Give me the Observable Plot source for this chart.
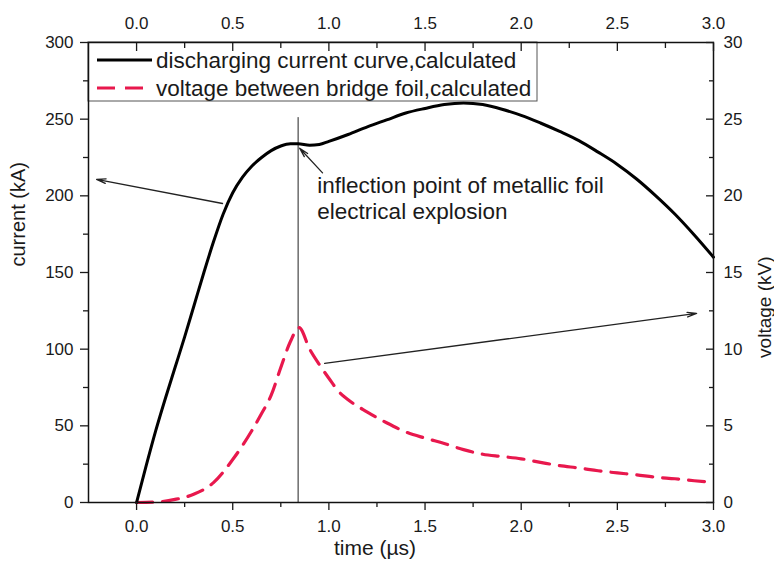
<!DOCTYPE html>
<html>
<head>
<meta charset="utf-8">
<script src="https://cdn.jsdelivr.net/npm/d3@7"></script>
<script src="https://cdn.jsdelivr.net/npm/@observablehq/plot@0.6"></script>
<style>
  body { margin: 0; background: #fff; }
  svg { display: block; }
</style>
</head>
<body>
<div id="chart"></div>
<script>
// Discharging current of the bridge foil (kA) against time (µs)
const currentTime = [0, 0.05, 0.1, 0.15, 0.2, 0.25, 0.3, 0.35, 0.4, 0.45, 0.5, 0.55, 0.6, 0.65, 0.7, 0.75, 0.8, 0.84, 0.9, 0.95, 1.0, 1.1, 1.2, 1.3, 1.4, 1.5, 1.6, 1.7, 1.8, 1.9, 2.0, 2.1, 2.2, 2.3, 2.4, 2.5, 2.6, 2.7, 2.8, 2.9, 3.0];
const currentKA = [0, 24, 47, 68, 88, 108, 129, 150, 170, 188, 202, 212, 219.5, 225, 229.5, 232.5, 234, 234, 233, 233.5, 235.5, 240, 245, 249.5, 254, 257, 259.5, 260.5, 259.5, 256.5, 252.5, 247.5, 242, 236, 228.5, 220.5, 211, 200, 188, 174.5, 160];

// Voltage across the bridge foil (kV) against time (µs)
const voltageTime = [0, 0.1, 0.2, 0.3, 0.4, 0.5, 0.55, 0.6, 0.65, 0.7, 0.75, 0.8, 0.845, 0.9, 0.95, 1.0, 1.05, 1.1, 1.2, 1.3, 1.4, 1.5, 1.6, 1.7, 1.8, 1.9, 2.0, 2.1, 2.2, 2.3, 2.4, 2.5, 2.6, 2.7, 2.8, 2.9, 3.0];
const voltageKV = [0, 0.03, 0.2, 0.55, 1.3, 2.8, 3.7, 4.7, 5.8, 7.0, 8.8, 10.5, 11.4, 10.0, 9.0, 8.1, 7.25, 6.7, 5.9, 5.2, 4.6, 4.2, 3.85, 3.45, 3.15, 3.0, 2.85, 2.62, 2.4, 2.25, 2.07, 1.93, 1.8, 1.65, 1.55, 1.42, 1.3];

// Axis ticks
const timeTicks = [0, 0.5, 1.0, 1.5, 2.0, 2.5, 3.0];
const timeMinor = [0.25, 0.75, 1.25, 1.75, 2.25, 2.75];
const currentTicks = [0, 50, 100, 150, 200, 250, 300];
const currentMinor = [25, 75, 125, 175, 225, 275];
const voltageTicks = [0, 5, 10, 15, 20, 25, 30];
const voltageMinor = [2.5, 7.5, 12.5, 17.5, 22.5, 27.5];

// Series names and styling keys
const seriesNames = ["discharging current curve,calculated", "voltage between bridge foil,calculated"];
const seriesColors = ["#000000", "#e8184d"];

// Foil explosion instant and annotations (time µs, current-axis units)
const explosionTime = 0.84;
const explosionMarkerTop = 251;
const arrowFrom = [{x: 0.447, y: 195}, {x: 0.967, y: 215}, {x: 0.978, y: 90.7}];
const arrowTo = [{x: -0.208, y: 210.7}, {x: 0.848, y: 231}, {x: 2.912, y: 123.3}];
const noteText = ["inflection point of metallic foil", "electrical explosion"];
const notePosition = {x: 0.94, y: 199};

// kV plotted on the current axis: 30 kV spans the same height as 300 kA
const kvToAxis = 10;

const currentData = currentTime.map((t, i) => ({t, v: currentKA[i]}));
const voltageData = voltageTime.map((t, i) => ({t, v: voltageKV[i] * kvToAxis}));
const arrows = arrowFrom.map((a, i) => ({x1: a.x, y1: a.y, x2: arrowTo[i].x, y2: arrowTo[i].y}));

const W = 774, H = 566;
const margin = {top: 42, right: 61, bottom: 64, left: 88};
const font = "'Liberation Sans', Arial, Helvetica, sans-serif";

const plot = Plot.plot({
  width: W,
  height: H,
  marginTop: margin.top,
  marginRight: margin.right,
  marginBottom: margin.bottom,
  marginLeft: margin.left,
  style: {fontFamily: font, fontSize: "17px", color: "#1a1a1a", background: "#fff"},
  x: {domain: [-0.25, 3]},
  y: {domain: [0, 300]},
  marks: [
    // explosion marker line
    Plot.ruleX([explosionTime], {y1: 0, y2: explosionMarkerTop, stroke: "#222", strokeWidth: 1}),
    // voltage (dashed) and current (solid)
    Plot.line(voltageData, {x: "t", y: "v", stroke: seriesColors[1], strokeWidth: 3.2, strokeDasharray: "16,10", curve: "monotone-x"}),
    Plot.line(currentData, {x: "t", y: "v", stroke: seriesColors[0], strokeWidth: 3, curve: "monotone-x"}),
    // annotation arrows and note
    Plot.arrow(arrows, {x1: "x1", y1: "y1", x2: "x2", y2: "y2", stroke: "#222", strokeWidth: 1.3, headLength: 11, headAngle: 28}),
    Plot.text([noteText.join("\n")], {x: () => notePosition.x, y: () => notePosition.y, textAnchor: "start", lineAnchor: "middle", lineHeight: 1.15, fontSize: 22.5, fill: "#1a1a1a"}),
    // frame
    Plot.frame({stroke: "#111", strokeWidth: 1.5}),
    // bottom axis
    Plot.axisX(timeTicks, {anchor: "bottom", tickSize: 8, tickPadding: 9, tickFormat: d3.format(".1f"), fontSize: 17, label: null, strokeWidth: 1.3}),
    Plot.axisX(timeMinor, {anchor: "bottom", tickSize: 5, tickFormat: () => "", label: null, strokeWidth: 1.3}),
    // top axis: labels outside, ticks inside
    Plot.axisX(timeTicks, {anchor: "top", tickSize: 0, tickPadding: 14, tickFormat: d3.format(".1f"), fontSize: 17, label: null}),
    Plot.axisX(timeTicks, {anchor: "top", tickSize: -8, tickFormat: () => "", label: null, strokeWidth: 1.3}),
    Plot.axisX(timeMinor, {anchor: "top", tickSize: -5, tickFormat: () => "", label: null, strokeWidth: 1.3}),
    // left axis (current)
    Plot.axisY(currentTicks, {anchor: "left", tickSize: 8, tickPadding: 7, fontSize: 17, label: null, strokeWidth: 1.3}),
    Plot.axisY(currentMinor, {anchor: "left", tickSize: 5, tickFormat: () => "", label: null, strokeWidth: 1.3}),
    // right axis (voltage)
    Plot.axisY(voltageTicks.map(v => v * kvToAxis), {anchor: "right", tickSize: 0, tickPadding: 10, tickFormat: d => String(d / kvToAxis), fontSize: 17, label: null}),
    Plot.axisY(voltageTicks.map(v => v * kvToAxis), {anchor: "right", tickSize: -8, tickFormat: () => "", label: null, strokeWidth: 1.3}),
    Plot.axisY(voltageMinor.map(v => v * kvToAxis), {anchor: "right", tickSize: -5, tickFormat: () => "", label: null, strokeWidth: 1.3}),
    // axis titles
    Plot.text(["time (µs)"], {frameAnchor: "bottom", dx: -26, dy: 52, fontSize: 21, fill: "#1a1a1a"}),
    Plot.text(["current (kA)"], {frameAnchor: "left", rotate: -90, dx: -70, dy: -6, fontSize: 20, fill: "#1a1a1a"}),
    Plot.text(["voltage (kV)"], {frameAnchor: "right", rotate: -90, dx: 51, dy: -16, fontSize: 19, fill: "#1a1a1a"})
  ]
});

// Legend box in the upper-left corner, drawn beneath the frame and axes
const svg = d3.select(plot);
const frameNode = plot.querySelector('[aria-label="frame"]');
const legend = svg.append("g").attr("class", "legend");
legend.append("rect")
  .attr("x", margin.left).attr("y", margin.top)
  .attr("width", 449).attr("height", 59)
  .attr("fill", "#fff").attr("stroke", "#555").attr("stroke-width", 1);
seriesNames.forEach((name, i) => {
  const cy = margin.top + 18 + i * 28;
  legend.append("line")
    .attr("x1", margin.left + 9).attr("x2", margin.left + 64)
    .attr("y1", cy).attr("y2", cy)
    .attr("stroke", seriesColors[i]).attr("stroke-width", i ? 3.2 : 3)
    .attr("stroke-dasharray", i ? "18,10" : null);
  legend.append("text")
    .attr("x", margin.left + 68).attr("y", cy)
    .attr("dy", "0.35em")
    .attr("text-anchor", "start")
    .attr("font-size", 22.5).attr("fill", "#1a1a1a")
    .text(name);
});
if (frameNode) plot.insertBefore(legend.node(), frameNode);

document.getElementById("chart").appendChild(plot);
</script>
</body>
</html>
